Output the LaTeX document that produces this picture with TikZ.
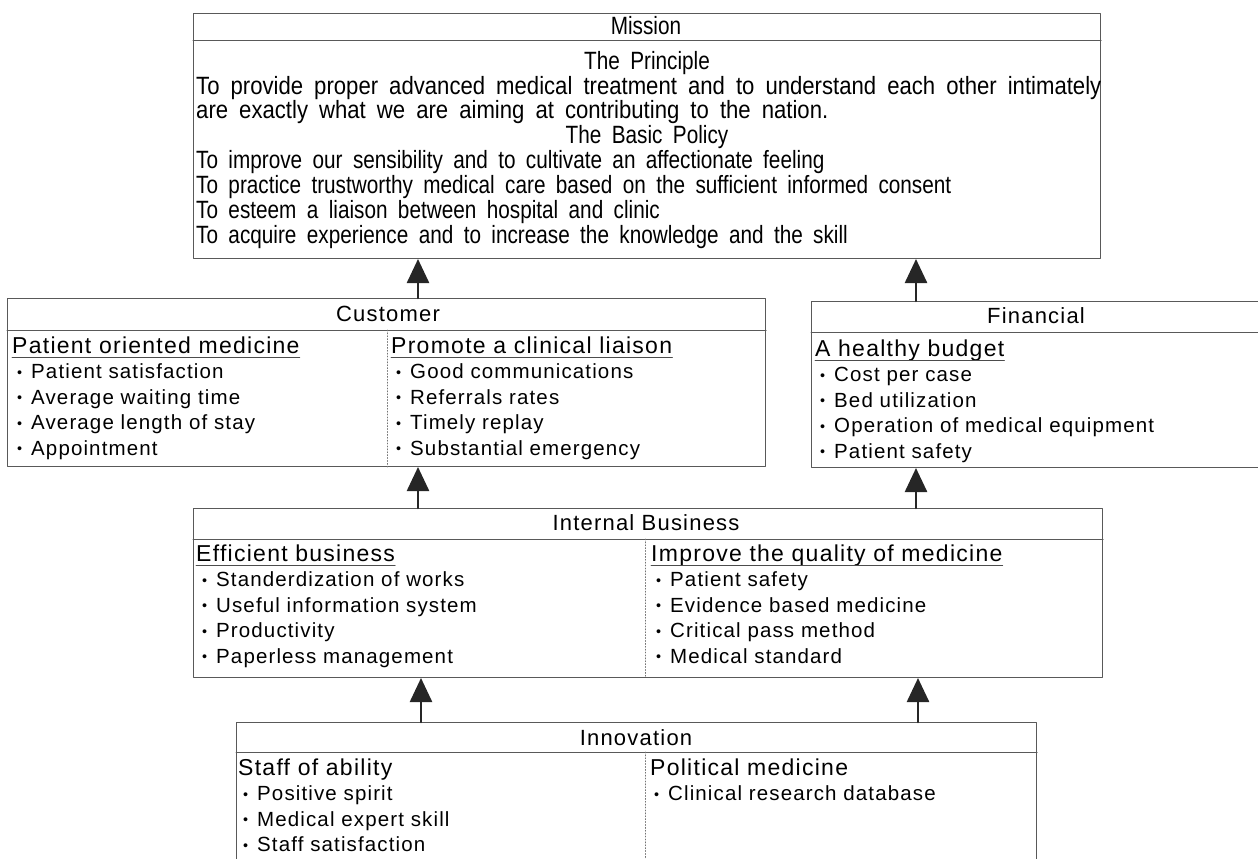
\documentclass[tikz,border=0pt]{standalone}
\usepackage{fontspec}
\setmainfont{Liberation Sans}
\newfontfamily\gothic[LetterSpace=5.5]{Liberation Sans}
\newfontfamily\narrowfont[FakeStretch=0.83,WordSpace=1.8]{Liberation Sans}
\newfontfamily\principlefont[FakeStretch=0.885,WordSpace=1.8]{Liberation Sans}
\usetikzlibrary{arrows.meta}

\newcommand\itemdot{\makebox[14pt][l]{\raisebox{1.2pt}{\scalebox{0.7}{\textbullet}}}}

\tikzset{
  frame/.style={draw=black!65, line width=1pt, anchor=north west, inner sep=0pt},
  sep/.style={draw=black!65, line width=1pt},
  divider/.style={draw=black!55, dotted, line width=0.9pt},
  uline/.style={draw=black!70, line width=0.9pt},
  ttl/.style={anchor=base, inner sep=0pt, font=\gothic\fontsize{22}{22}\selectfont},
  hd/.style={anchor=base west, inner sep=0pt, text depth=4.5pt, font=\gothic\fontsize{23}{23}\selectfont},
  itm/.style={anchor=base west, inner sep=0pt, font=\gothic\fontsize{20.5}{20.5}\selectfont},
  msn/.style={anchor=base west, inner sep=0pt, font=\narrowfont\fontsize{25}{25}\selectfont},
  prc/.style={anchor=base west, inner sep=0pt, font=\principlefont\fontsize{25}{25}\selectfont},
  msnttl/.style={anchor=base, inner sep=0pt, font=\narrowfont\fontsize{25}{25}\selectfont},
  uparrow/.style={-{Triangle[width=22pt,length=24pt]}, line width=2.5pt, draw=black!85, fill=black!85},
}

\begin{document}
\begin{tikzpicture}[x=1pt, y=-1pt, line cap=round, line join=round]
  \def\rowh{25.5}
  \useasboundingbox (0,0) rectangle (1258,859);

  % Frames of the five perspectives
  \node[frame, minimum width=907pt, minimum height=245pt] (mission) at (193,13) {};
  \node[frame, minimum width=758pt, minimum height=168pt] (cust) at (7,298) {};
  \node[frame, minimum width=460pt, minimum height=166pt] (fin) at (811,301) {};
  \node[frame, minimum width=909pt, minimum height=169pt] (intl) at (193,508) {};
  \node[frame, minimum width=800pt, minimum height=160pt] (innov) at (236,722) {};

  % Header rules
  \draw[sep] ([yshift=-28pt]mission.north west) -- ([yshift=-28pt]mission.north east);
  \draw[sep] ([yshift=-32pt]cust.north west) -- ([yshift=-32pt]cust.north east);
  \draw[sep] ([yshift=-31pt]fin.north west) -- ([yshift=-31pt]fin.north east);
  \draw[sep] ([yshift=-31pt]intl.north west) -- ([yshift=-31pt]intl.north east);
  \draw[sep] ([yshift=-30pt]innov.north west) -- ([yshift=-30pt]innov.north east);

  % Dotted dividers between the two halves
  \coordinate (cdiv) at (387,330);
  \coordinate (idiv) at (645,539);
  \coordinate (ndiv) at (645,752);
  \draw[divider] (cdiv) -- (cdiv |- cust.south);
  \draw[divider] (idiv) -- (idiv |- intl.south);
  \draw[divider] (ndiv) -- (ndiv |- innov.south);

  % Mission
  \node[msnttl] (mt) at (646,35) {Mission};
  \node[msnttl] (mp) at (647,70) {The Principle};
  \node[prc] (m1) at (196,94) {To provide proper advanced medical treatment and to understand each other intimately};
  \node[prc] (m2) at (196,118) {are exactly what we are aiming at contributing to the nation.};
  \node[msnttl] (mb) at (647,143) {The Basic Policy};
  \foreach \t [count=\i] in {To improve our sensibility and to cultivate an affectionate feeling,
      To practice trustworthy medical care based on the sufficient informed consent,
      To esteem a liaison between hospital and clinic,
      To acquire experience and to increase the knowledge and the skill}
    \node[msn] (mb\i) at (196,{143+25*\i}) {\t};

  % Customer
  \node[ttl] (ct) at (388,321) {Customer};
  \node[hd] (ca) at (12,353) {Patient oriented medicine};
  \draw[uline] (ca.south west) -- (ca.south east);
  \foreach \t [count=\i] in {Patient satisfaction, Average waiting time, Average length of stay, Appointment}
    \node[itm] (ca\i) at (17,{353+\rowh*\i}) {\itemdot\t};
  \node[hd] (cb) at (391,353) {Promote a clinical liaison};
  \draw[uline] (cb.south west) -- (cb.south east);
  \foreach \t [count=\i] in {Good communications, Referrals rates, Timely replay, Substantial emergency}
    \node[itm] (cb\i) at (396,{353+\rowh*\i}) {\itemdot\t};

  % Financial
  \node[ttl] (ft) at (1036,323) {Financial};
  \node[hd] (fa) at (815,356) {A healthy budget};
  \draw[uline] (fa.south west) -- (fa.south east);
  \foreach \t [count=\i] in {Cost per case, Bed utilization, Operation of medical equipment, Patient safety}
    \node[itm] (fa\i) at (820,{356+\rowh*\i}) {\itemdot\t};

  % Internal Business
  \node[ttl] (it) at (646,530) {Internal Business};
  \node[hd] (ia) at (196,561) {Efficient business};
  \draw[uline] (ia.south west) -- (ia.south east);
  \foreach \t [count=\i] in {Standerdization of works, Useful information system, Productivity, Paperless management}
    \node[itm] (ia\i) at (202,{561+\rowh*\i}) {\itemdot\t};
  \node[hd] (ib) at (651,561) {Improve the quality of medicine};
  \draw[uline] (ib.south west) -- (ib.south east);
  \foreach \t [count=\i] in {Patient safety, Evidence based medicine, Critical pass method, Medical standard}
    \node[itm] (ib\i) at (656,{561+\rowh*\i}) {\itemdot\t};

  % Innovation
  \node[ttl] (nt) at (636,745) {Innovation};
  \node[hd] (na) at (238,775) {Staff of ability};
  \foreach \t [count=\i] in {Positive spirit, Medical expert skill, Staff satisfaction}
    \node[itm] (na\i) at (243,{775+\rowh*\i}) {\itemdot\t};
  \node[hd] (nb) at (650,775) {Political medicine};
  \node[itm] (nb1) at (654,{775+\rowh}) {\itemdot Clinical research database};

  % Cause-effect arrows
  \coordinate (al) at (418,0);
  \coordinate (ar) at (916,0);
  \coordinate (bl) at (421,0);
  \coordinate (br) at (918,0);
  \draw[uparrow] (cust.north -| al) -- (mission.south -| al);
  \draw[uparrow] (fin.north -| ar) -- (mission.south -| ar);
  \draw[uparrow] (intl.north -| al) -- (cust.south -| al);
  \draw[uparrow] (intl.north -| ar) -- (fin.south -| ar);
  \draw[uparrow] (innov.north -| bl) -- (intl.south -| bl);
  \draw[uparrow] (innov.north -| br) -- (intl.south -| br);
\end{tikzpicture}
\end{document}
